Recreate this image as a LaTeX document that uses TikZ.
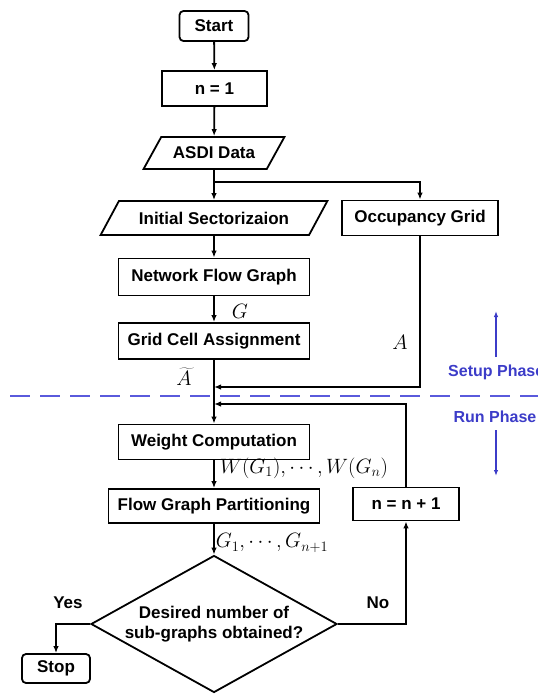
\documentclass[tikz,border=0pt]{standalone}
\usepackage{fontspec}
\setmainfont{Liberation Sans}
\usetikzlibrary{shapes.geometric, arrows.meta}
\newcommand{\boxfont}{\fontsize{17}{20}\selectfont\bfseries}
\newcommand{\lblfont}{\fontsize{20}{24}\selectfont}
\newcommand{\phasefont}{\fontsize{16}{19}\selectfont\bfseries}
\definecolor{phaseblue}{RGB}{60,60,200}
\definecolor{dashblue}{RGB}{90,90,220}

\begin{document}
\begin{tikzpicture}[x=1pt,y=-1pt,
	box/.style={draw, line width=1.8pt, minimum height=35pt, inner sep=2pt, font=\boxfont},
	roundbox/.style={box, rounded corners=4pt},
	databox/.style={box, trapezium, trapezium left angle=48, trapezium right angle=132, trapezium stretches=true},
	decision/.style={draw, line width=1.8pt, diamond, aspect=1.8, inner sep=0pt, font=\boxfont, align=center},
	flow/.style={line width=1.8pt, -{Latex[length=7pt,width=5.5pt]}},
	phase/.style={line width=1.4pt, phaseblue, -{Latex[length=6pt,width=4.5pt]}}
	]
	\useasboundingbox (0,0) rectangle (538,694);
	% the boxes of the chart
	\node[roundbox, minimum width=69pt, minimum height=30pt] (start) at (214,26) {Start};
	\node[box, minimum width=105pt] (n1) at (214.5,88.5) {n = 1};
	\node[databox, minimum width=141pt, minimum height=32pt] (asdi) at (214,153) {ASDI Data};
	\node[databox, minimum width=227pt, minimum height=34pt] (init) at (214,218) {Initial Sectorizaion};
	\node[box, minimum width=156pt] (occ) at (420,218) {Occupancy Grid};
	\node[box, minimum width=191pt, minimum height=37pt] (nfg) at (214,277) {Network Flow Graph};
	\node[box, minimum width=191pt, minimum height=36pt] (gca) at (214,341) {Grid Cell Assignment};
	\node[box, minimum width=191pt] (wc) at (214,442) {Weight Computation};
	\node[box, minimum width=211pt, minimum height=34pt] (fgp) at (214,506) {Flow Graph Partitioning};
	\node[box, minimum width=106pt, minimum height=33pt] (nn) at (406,504) {n = n + 1};
	\node[decision, minimum width=246pt, minimum height=137pt] (dec) at (214,624) {Desired number of\\sub-graphs obtained?};
	\node[roundbox, minimum width=68pt, minimum height=29pt] (stop) at (56,668.5) {Stop};

	% the connectors
	\coordinate (split) at (214,182);
	\coordinate (mergeA) at (214,387);
	\coordinate (mergeN) at (214,404);
	\draw[flow] (start) -- (n1);
	\draw[flow] (n1) -- (asdi);
	\draw[flow] (asdi) -- (init);
	\draw[flow] (split) -| (occ);
	\draw[flow] (init) -- (nfg);
	\draw[flow] (nfg) -- (gca);
	\draw[flow] (gca) -- (wc);
	\draw[flow] (occ) |- (mergeA);
	\draw[flow] (nn) |- (mergeN);
	\draw[flow] (wc) -- (fgp);
	\draw[flow] (fgp) -- (dec);
	\draw[flow] (dec.west) -| (stop);
	\draw[flow] (dec.east) -| (nn);

	% labels on the connectors
	\node[font=\lblfont] (lG) at (240,311) {$G$};
	\node[font=\lblfont] (lA) at (400,342) {$A$};
	\node[font=\lblfont] (lAt) at (184,377) {$\widetilde{A}$};
	\node[font=\lblfont] (lW) at (304,468) {$W(G_1),\cdots,W(G_n)$};
	\node[font=\lblfont] (lGs) at (272,543) {$G_1,\cdots,G_{n+1}$};
	\node[font=\boxfont] (lyes) at (68,603) {Yes};
	\node[font=\boxfont] (lno) at (378,603) {No};

	% the two phases
	\draw[dashblue, line width=2.5pt, dash pattern=on 20pt off 10pt] (10,396) -- (538,396);
	\node[font=\phasefont, text=phaseblue, anchor=west, inner sep=0pt] (setup) at (448,372) {Setup Phase};
	\node[font=\phasefont, text=phaseblue, inner sep=0pt] (run) at (495,417) {Run Phase};
	\coordinate (upA) at (496,357);
	\coordinate (upB) at (496,311);
	\coordinate (downA) at (496,430);
	\coordinate (downB) at (496,476);
	\draw[phase] (upA) -- (upB);
	\draw[phase] (downA) -- (downB);
\end{tikzpicture}
\end{document}
